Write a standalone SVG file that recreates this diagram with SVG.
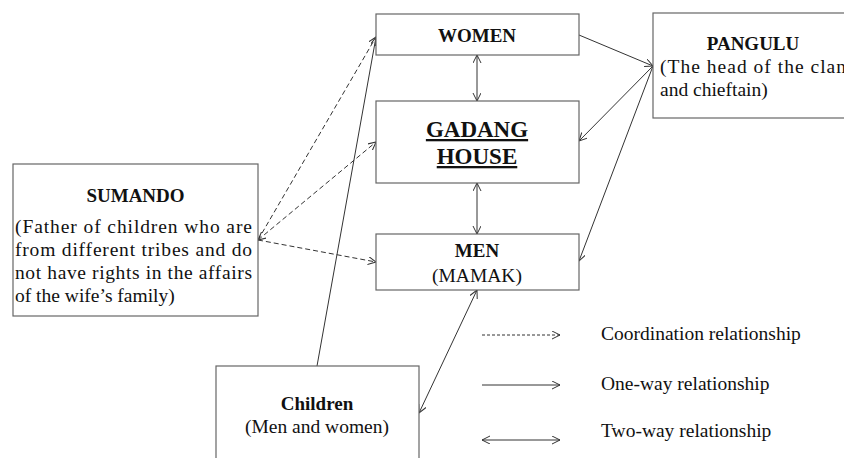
<svg xmlns="http://www.w3.org/2000/svg" width="844" height="458" viewBox="0 0 844 458">
<style>
.box{fill:#fff;stroke:#666;stroke-width:1.2}
.t{font-family:"Liberation Serif","Times New Roman",serif;font-size:19.5px;fill:#111}
.b{font-family:"Liberation Serif","Times New Roman",serif;font-size:19px;font-weight:bold;fill:#111}
.g{font-family:"Liberation Serif","Times New Roman",serif;font-size:23px;font-weight:bold;fill:#111;text-decoration:underline}
.c{fill:none;stroke:#333;stroke-width:1}
.d{stroke-dasharray:5,3}
.ld{stroke-dasharray:3,2}
</style>
<defs>
<marker id="ah" markerUnits="userSpaceOnUse" markerWidth="10" markerHeight="10" refX="8" refY="4" orient="auto-start-reverse">
<path d="M0,0 L8,4 L0,8" fill="none" stroke="#333" stroke-width="1"/>
</marker>
</defs>
<rect width="844" height="458" fill="#fff"/>
<g id="connectors">
<path class="c" d="M477,55 L477,101" marker-start="url(#ah)" marker-end="url(#ah)"/>
<path class="c" d="M477,183 L477,234" marker-start="url(#ah)" marker-end="url(#ah)"/>
<path class="c" d="M579,35 L653,66" marker-end="url(#ah)"/>
<path class="c" d="M653,66 L579,141" marker-end="url(#ah)"/>
<path class="c" d="M653,66 L579,261" marker-end="url(#ah)"/>
<path class="c d" d="M258,240 L376,37" marker-end="url(#ah)"/>
<path class="c d" d="M258,240 L376,142" marker-start="url(#ah)" marker-end="url(#ah)"/>
<path class="c d" d="M258,240 L376,262" marker-end="url(#ah)"/>
<path class="c" d="M317,366 L376,37" marker-end="url(#ah)"/>
<path class="c" d="M477,290 L419,413" marker-start="url(#ah)" marker-end="url(#ah)"/>
</g>
<g id="women">
<rect class="box" x="376" y="14" width="203" height="41"/>
<text class="b" x="477" y="42" text-anchor="middle">WOMEN</text>
</g>
<g id="gadang">
<rect class="box" x="376" y="101" width="203" height="82"/>
<text class="g" x="477" y="137" text-anchor="middle">GADANG</text>
<text class="g" x="477" y="164" text-anchor="middle">HOUSE</text>
</g>
<g id="men">
<rect class="box" x="376" y="234" width="203" height="56"/>
<text class="b" x="477" y="257" text-anchor="middle">MEN</text>
<text class="t" x="477" y="282" text-anchor="middle">(MAMAK)</text>
</g>
<g id="pangulu">
<rect class="box" x="653" y="13" width="200" height="105"/>
<text class="b" x="753" y="50" text-anchor="middle">PANGULU</text>
<text class="t" x="660" y="73" textLength="186" lengthAdjust="spacing">(The head of the clan</text>
<text class="t" x="660" y="96">and chieftain)</text>
</g>
<g id="sumando">
<rect class="box" x="13" y="164" width="245" height="152"/>
<text class="b" x="135.5" y="202" text-anchor="middle">SUMANDO</text>
<text class="t" x="15" y="232.5" textLength="237" lengthAdjust="spacing">(Father of children who are</text>
<text class="t" x="15" y="255.5" textLength="237" lengthAdjust="spacing">from different tribes and do</text>
<text class="t" x="15" y="278.5" textLength="237" lengthAdjust="spacing">not have rights in the affairs</text>
<text class="t" x="15" y="301.5">of the wife’s family)</text>
</g>
<g id="children">
<rect class="box" x="216" y="366" width="203" height="100"/>
<text class="b" x="317" y="410" text-anchor="middle">Children</text>
<text class="t" x="317" y="433" text-anchor="middle">(Men and women)</text>
</g>
<g id="legend">
<path class="c ld" d="M482,335 L560,335" marker-end="url(#ah)"/>
<text class="t" x="601" y="340">Coordination relationship</text>
<path class="c" d="M482,385 L560,385" marker-end="url(#ah)"/>
<text class="t" x="601" y="390">One-way relationship</text>
<path class="c" d="M482,440 L560,440" marker-start="url(#ah)" marker-end="url(#ah)"/>
<text class="t" x="601" y="437">Two-way relationship</text>
</g>
</svg>
